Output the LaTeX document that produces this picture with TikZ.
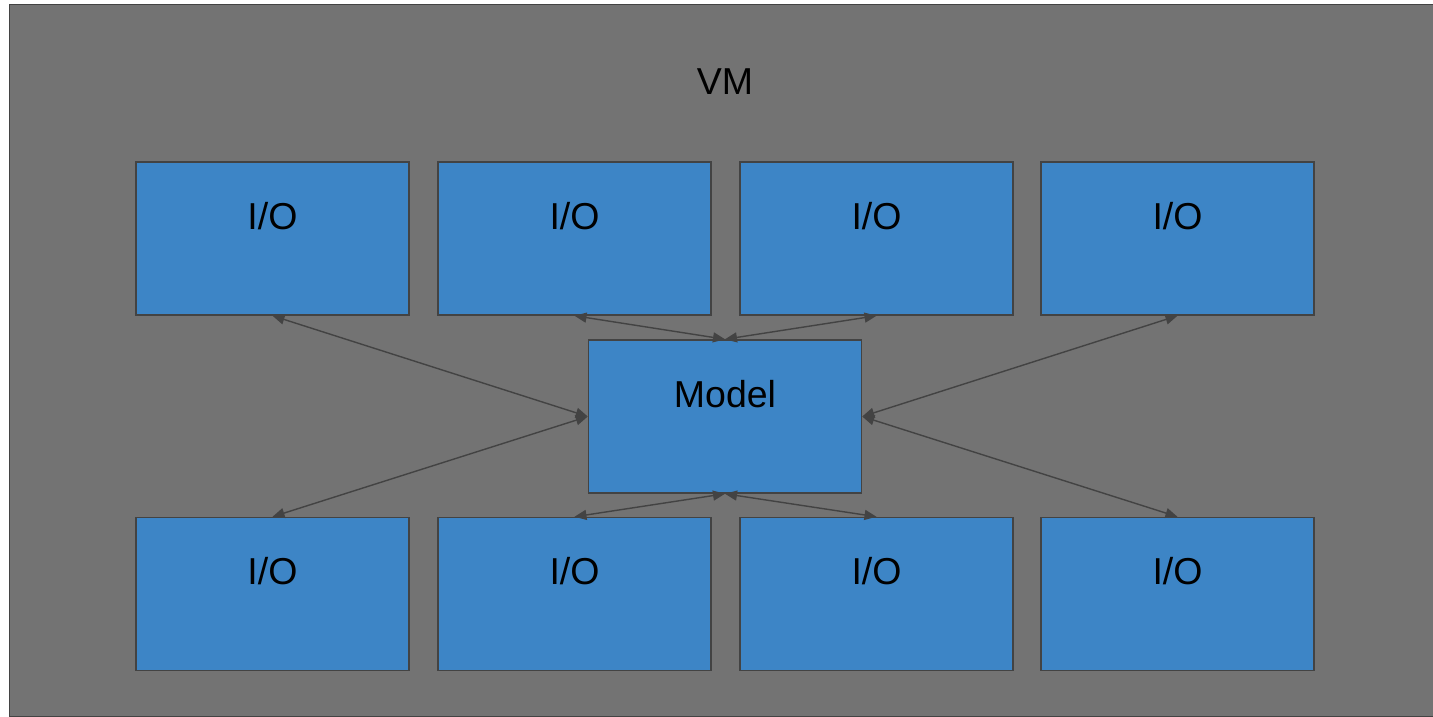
\documentclass[tikz,border=0pt]{standalone}
\usepackage{fontspec}
\setmainfont{Liberation Sans}
\usetikzlibrary{arrows.meta}
\definecolor{vmgray}{HTML}{737373}
\definecolor{boxblue}{HTML}{3D85C6}
\definecolor{edge}{HTML}{434343}
\tikzset{
  iobox/.style={draw=edge, line width=1.5pt, fill=boxblue, rectangle,
    minimum width=273pt, minimum height=153pt, inner sep=0pt},
  lbl/.style={anchor=base, font=\fontsize{37.5}{44}\selectfont, text=black, inner sep=0pt},
  link/.style={draw=edge, line width=1.4pt,
    {Triangle[length=12pt,width=10pt]}-{Triangle[length=12pt,width=10pt]}}
}
\begin{document}
\begin{tikzpicture}[x=1pt,y=-1pt]
  \useasboundingbox (0,0) rectangle (1433,716);
  \fill[white] (0,0) rectangle (1433,716);
  % virtual machine frame
  \node[draw=edge, line width=1.5pt, fill=vmgray, anchor=north west, inner sep=0pt,
    minimum width=1424pt, minimum height=712pt] (vm) at (8.5,3.5) {};
  \node[lbl] (vmlabel) at (725,94) {VM};

  % top row of I/O boxes
  \foreach \i/\x in {1/272.5, 2/574.5, 3/876.5, 4/1177.5} {
    \node[iobox] (t\i) at (\x,238.5) {};
    \node[lbl] (tl\i) at (\x,229) {I/O};
  }
  % bottom row of I/O boxes
  \foreach \i/\x in {1/272.5, 2/574.5, 3/876.5, 4/1177.5} {
    \node[iobox] (b\i) at (\x,594) {};
    \node[lbl] (bl\i) at (\x,584) {I/O};
  }
  % central model
  \node[iobox] (model) at (725,416.5) {};
  \node[lbl] (modellabel) at (725,407) {Model};

  % links between the model and every I/O box
  \draw[link] (t1.south) -- (model.west);
  \draw[link] (t2.south) -- (model.north);
  \draw[link] (t3.south) -- (model.north);
  \draw[link] (t4.south) -- (model.east);
  \draw[link] (model.west) -- (b1.north);
  \draw[link] (model.south) -- (b2.north);
  \draw[link] (model.south) -- (b3.north);
  \draw[link] (model.east) -- (b4.north);
\end{tikzpicture}
\end{document}
